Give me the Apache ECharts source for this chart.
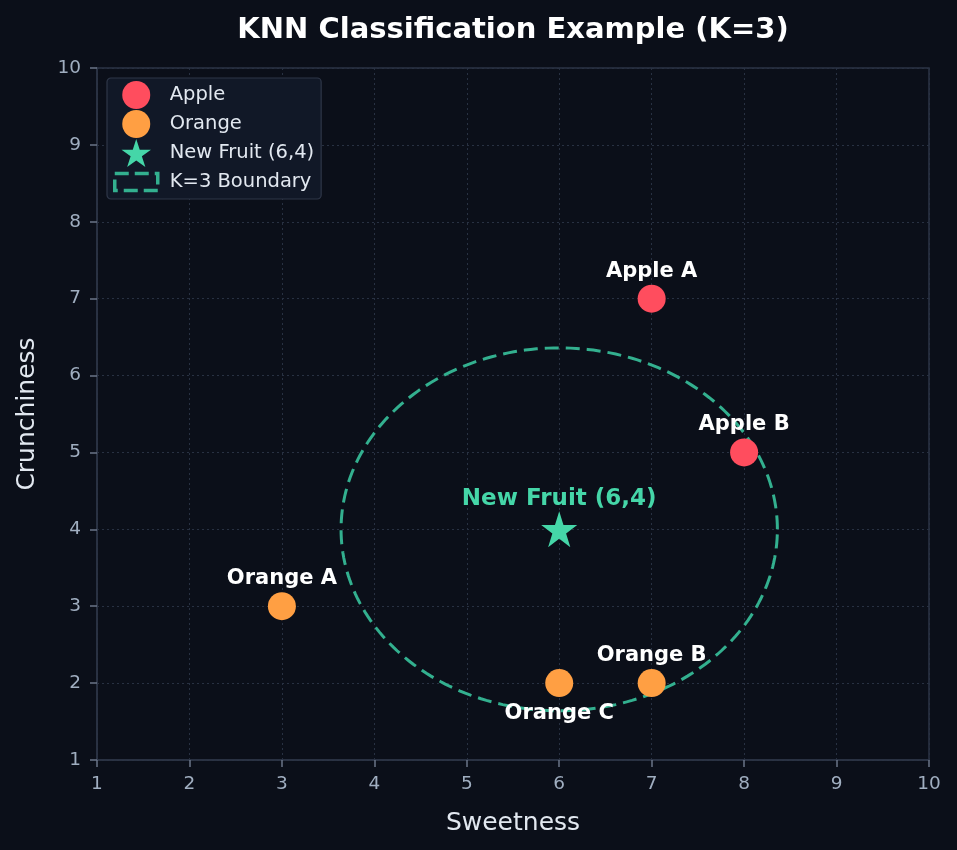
<!DOCTYPE html>
<html>
<head>
<meta charset="utf-8">
<script src="https://cdn.jsdelivr.net/npm/echarts@6/dist/echarts.min.js"></script>
<style>
html,body{margin:0;padding:0;background:#0b0f19;}
#chart{width:957px;height:850px;}
</style>
</head>
<body>
<div id="chart"></div>
<script>
// data
var appleNames = ['Apple A', 'Apple B'];
var applePoints = [[7, 7], [8, 5]];
var orangeNames = ['Orange A', 'Orange B', 'Orange C'];
var orangePoints = [[3, 3], [7, 2], [6, 2]];
var newFruit = [6, 4];
var boundaryRadius = 2.36;
var axisTicks = [1, 2, 3, 4, 5, 6, 7, 8, 9, 10];

var starPath = 'path://M50,0 L61.8,36.3 L100,36.3 L69.1,58.8 L80.9,95.1 L50,72.6 L19.1,95.1 L30.9,58.8 L0,36.3 L38.2,36.3 Z';
var rectPath = 'path://M0,0 L43,0 L43,17 L0,17 Z';
var font = 'DejaVu Sans';
var labelBelow = { 'Orange C': true };

function makeItems(names, pts) {
    return pts.map(function (p, i) {
        var below = labelBelow[names[i]];
        return {
            name: names[i],
            value: p,
            label: { position: below ? 'bottom' : 'top', distance: below ? 6 : 3 }
        };
    });
}

var chart = echarts.init(document.getElementById('chart'));
var axisCommon = {
    type: 'value',
    min: axisTicks[0],
    max: axisTicks[axisTicks.length - 1],
    interval: 1,
    nameLocation: 'middle',
    nameTextStyle: { color: '#e2e8f0', fontSize: 25, fontFamily: font },
    axisLine: { show: true, onZero: false, lineStyle: { color: '#2d3446', width: 1.5 } },
    axisTick: { show: true, length: 7, lineStyle: { color: '#6b7588', width: 1.5 } },
    axisLabel: { color: '#a0aec0', fontSize: 18.5, fontFamily: font },
    splitLine: { show: true, lineStyle: { color: '#283142', type: [2, 3], width: 1 } }
};

var pointLabel = { show: true, formatter: '{b}', color: '#ffffff', fontWeight: 'bold', fontSize: 21, fontFamily: font };

var option = {
    backgroundColor: '#0b0f19',
    animation: false,
    title: {
        text: 'KNN Classification Example (K=3)',
        left: 508, textAlign: 'center', top: 11,
        textStyle: { color: '#ffffff', fontSize: 29, fontWeight: 'bold', fontFamily: font }
    },
    grid: {
        left: 97, right: 28, top: 68, bottom: 90,
        show: true, borderColor: '#2d3446', borderWidth: 1.5, backgroundColor: 'transparent'
    },
    legend: {
        left: 107, top: 78, orient: 'vertical',
        padding: [3, 7, 3, 6],
        itemGap: 1, itemWidth: 43, itemHeight: 28,
        backgroundColor: '#111827', borderColor: '#2f3749', borderWidth: 1.2, borderRadius: 4,
        textStyle: { color: '#e2e8f0', fontSize: 19.5, lineHeight: 28, fontFamily: font, padding: [0, 0, 0, 7] },
        data: [
            { name: 'Apple', icon: 'circle' },
            { name: 'Orange', icon: 'circle' },
            { name: 'New Fruit (6,4)', icon: starPath },
            { name: 'K=3 Boundary', icon: rectPath,
              itemStyle: { color: 'transparent', borderColor: '#33b08f', borderWidth: 3.5, borderType: [14, 6] } }
        ]
    },
    xAxis: Object.assign({}, axisCommon, {
        name: 'Sweetness', nameGap: 51,
        axisLabel: Object.assign({}, axisCommon.axisLabel, { margin: 15 })
    }),
    yAxis: Object.assign({}, axisCommon, {
        name: 'Crunchiness', nameGap: 57,
        axisLabel: Object.assign({}, axisCommon.axisLabel, { margin: 16 })
    }),
    series: [
        {
            name: 'K=3 Boundary',
            type: 'custom',
            z: 1,
            itemStyle: { color: 'transparent', borderColor: '#33b08f' },
            data: [[newFruit[0], newFruit[1], boundaryRadius]],
            renderItem: function (params, api) {
                var cx = api.value(0), cy = api.value(1), r = api.value(2);
                var pts = [];
                for (var i = 0; i <= 240; i++) {
                    var a = i / 240 * Math.PI * 2;
                    pts.push(api.coord([cx + r * Math.cos(a), cy + r * Math.sin(a)]));
                }
                return {
                    type: 'polyline',
                    shape: { points: pts },
                    style: { fill: null, stroke: '#33b08f', lineWidth: 3, lineDash: [14, 7] }
                };
            }
        },
        {
            name: 'Apple',
            type: 'scatter',
            symbolSize: 28,
            z: 3,
            itemStyle: { color: '#ff4d5e', opacity: 1 },
            label: pointLabel,
            data: makeItems(appleNames, applePoints)
        },
        {
            name: 'Orange',
            type: 'scatter',
            symbolSize: 28,
            z: 3,
            itemStyle: { color: '#ff9f43', opacity: 1 },
            label: pointLabel,
            data: makeItems(orangeNames, orangePoints)
        },
        {
            name: 'New Fruit (6,4)',
            type: 'scatter',
            symbol: starPath,
            symbolSize: 36,
            z: 4,
            itemStyle: { color: '#45d6a8', opacity: 1 },
            label: {
                show: true, position: 'top', distance: 1,
                formatter: 'New Fruit (6,4)', color: '#45d6a8',
                fontWeight: 'bold', fontSize: 23, fontFamily: font
            },
            data: [newFruit]
        }
    ]
};
chart.setOption(option);
</script>
</body>
</html>
